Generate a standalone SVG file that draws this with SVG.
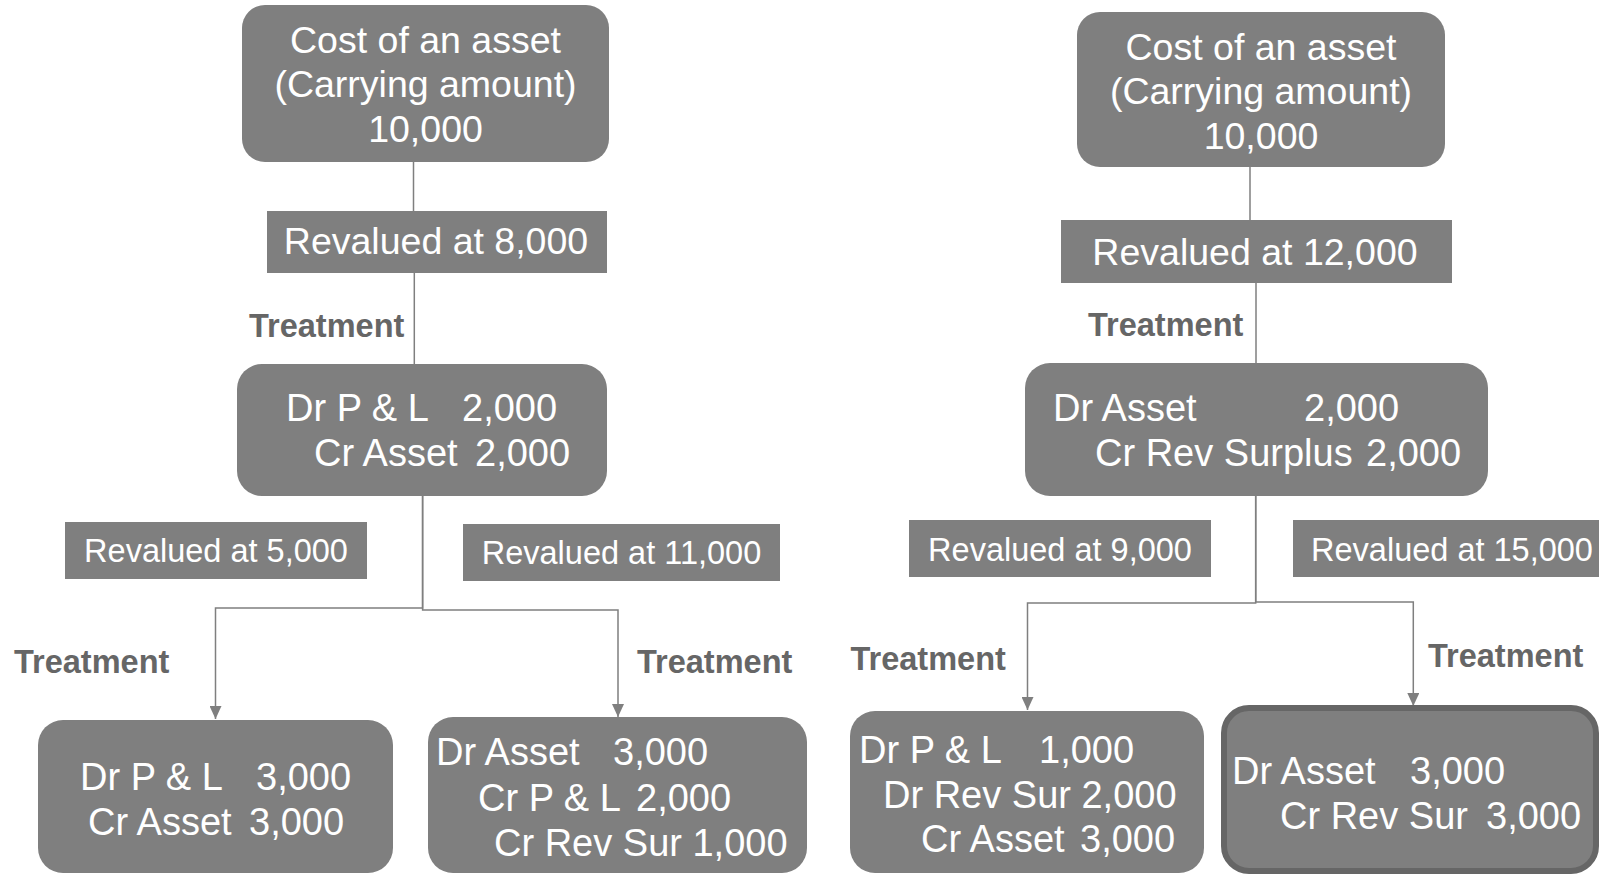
<svg xmlns="http://www.w3.org/2000/svg" width="1599" height="874" viewBox="0 0 1599 874">
<style>
.box{fill:#7f7f7f;}
.t{font-family:"Liberation Sans",Arial,sans-serif;font-size:38px;fill:#ffffff;}
.h{font-family:"Liberation Sans",Arial,sans-serif;font-size:37.5px;fill:#ffffff;text-anchor:middle;}
.r{font-family:"Liberation Sans",Arial,sans-serif;font-size:37.5px;fill:#ffffff;text-anchor:middle;}
.s{font-family:"Liberation Sans",Arial,sans-serif;font-size:32.5px;fill:#ffffff;text-anchor:middle;}
.tr{font-family:"Liberation Sans",Arial,sans-serif;font-size:32.5px;font-weight:bold;fill:#666666;}
.ln{fill:none;stroke:#7f7f7f;stroke-width:1.5;}
</style>
<defs>
<marker id="ah" viewBox="0 0 13 12" refX="13" refY="6" markerWidth="13" markerHeight="12" markerUnits="userSpaceOnUse" orient="auto">
<path d="M0,0 L13,6 L0,12 z" fill="#7f7f7f"/>
</marker>
</defs>
<rect width="1599" height="874" fill="#ffffff"/>

<g id="connectors">
<path class="ln" d="M413.5,162 V211"/>
<path class="ln" d="M414.3,273 V364"/>
<path class="ln" d="M422.6,496 V608 H215.5 V719" marker-end="url(#ah)"/>
<path class="ln" d="M422.6,496 V610 H618 V717" marker-end="url(#ah)"/>
<path class="ln" d="M1250,167 V220"/>
<path class="ln" d="M1256,283 V363"/>
<path class="ln" d="M1255.7,496 V603 H1027.5 V710" marker-end="url(#ah)"/>
<path class="ln" d="M1255.7,496 V602 H1413.3 V706" marker-end="url(#ah)"/>
</g>

<g id="labels">
<text class="tr" x="249" y="337">Treatment</text>
<text class="tr" x="1088" y="336">Treatment</text>
<text class="tr" x="14" y="673">Treatment</text>
<text class="tr" x="637" y="673">Treatment</text>
<text class="tr" x="850.5" y="670">Treatment</text>
<text class="tr" x="1428" y="667">Treatment</text>
</g>

<g id="left-cost">
<rect class="box" x="242" y="5" width="367" height="157" rx="23"/>
<text class="h" x="425.5" y="53">Cost of an asset</text>
<text class="h" x="425.5" y="97">(Carrying amount)</text>
<text class="h" x="425.5" y="142">10,000</text>
</g>

<g id="left-reval8000">
<rect class="box" x="267" y="211" width="340" height="62"/>
<text class="r" x="436" y="254">Revalued at 8,000</text>
</g>

<g id="left-entry1">
<rect class="box" x="237" y="364" width="370" height="132" rx="25"/>
<text class="t" y="421"><tspan x="286">Dr P &amp; L</tspan><tspan x="462">2,000</tspan></text>
<text class="t" y="466"><tspan x="314">Cr Asset</tspan><tspan x="475">2,000</tspan></text>
</g>

<g id="left-reval5000">
<rect class="box" x="65" y="522" width="302" height="57"/>
<text class="s" x="216" y="562">Revalued at 5,000</text>
</g>

<g id="left-reval11000">
<rect class="box" x="463" y="524" width="317" height="57"/>
<text class="s" x="621.5" y="564">Revalued at 11,000</text>
</g>

<g id="left-entry2">
<rect class="box" x="38" y="720" width="355" height="153" rx="25"/>
<text class="t" y="790"><tspan x="80">Dr P &amp; L</tspan><tspan x="256">3,000</tspan></text>
<text class="t" y="835"><tspan x="88">Cr Asset</tspan><tspan x="249">3,000</tspan></text>
</g>

<g id="left-entry3">
<rect class="box" x="428" y="717" width="379" height="156" rx="25"/>
<text class="t" y="765"><tspan x="436">Dr Asset</tspan><tspan x="613">3,000</tspan></text>
<text class="t" y="811"><tspan x="478">Cr P &amp; L</tspan><tspan x="636">2,000</tspan></text>
<text class="t" y="856"><tspan x="494">Cr Rev Sur 1,000</tspan></text>
</g>

<g id="right-cost">
<rect class="box" x="1077" y="12" width="368" height="155" rx="23"/>
<text class="h" x="1261" y="60">Cost of an asset</text>
<text class="h" x="1261" y="104">(Carrying amount)</text>
<text class="h" x="1261" y="149">10,000</text>
</g>

<g id="right-reval12000">
<rect class="box" x="1061" y="220" width="391" height="63"/>
<text class="r" x="1255" y="265">Revalued at 12,000</text>
</g>

<g id="right-entry1">
<rect class="box" x="1025" y="363" width="463" height="133" rx="25"/>
<text class="t" y="421"><tspan x="1053">Dr Asset</tspan><tspan x="1304">2,000</tspan></text>
<text class="t" y="466"><tspan x="1095">Cr Rev Surplus</tspan><tspan x="1366">2,000</tspan></text>
</g>

<g id="right-reval9000">
<rect class="box" x="909" y="520" width="302" height="57"/>
<text class="s" x="1060" y="561">Revalued at 9,000</text>
</g>

<g id="right-reval15000">
<rect class="box" x="1293" y="520" width="306" height="57"/>
<text class="s" x="1452" y="561">Revalued at 15,000</text>
</g>

<g id="right-entry2">
<rect class="box" x="850" y="711" width="354" height="162" rx="25"/>
<text class="t" y="763"><tspan x="859">Dr P &amp; L</tspan><tspan x="1039">1,000</tspan></text>
<text class="t" y="808"><tspan x="883">Dr Rev Sur 2,000</tspan></text>
<text class="t" y="852"><tspan x="921">Cr Asset</tspan><tspan x="1080">3,000</tspan></text>
</g>

<g id="right-entry3">
<rect class="box" x="1224" y="708" width="372" height="163" rx="25" stroke="#666666" stroke-width="6"/>
<text class="t" y="784"><tspan x="1232">Dr Asset</tspan><tspan x="1410">3,000</tspan></text>
<text class="t" y="829"><tspan x="1280">Cr Rev Sur</tspan><tspan x="1486">3,000</tspan></text>
</g>
</svg>
